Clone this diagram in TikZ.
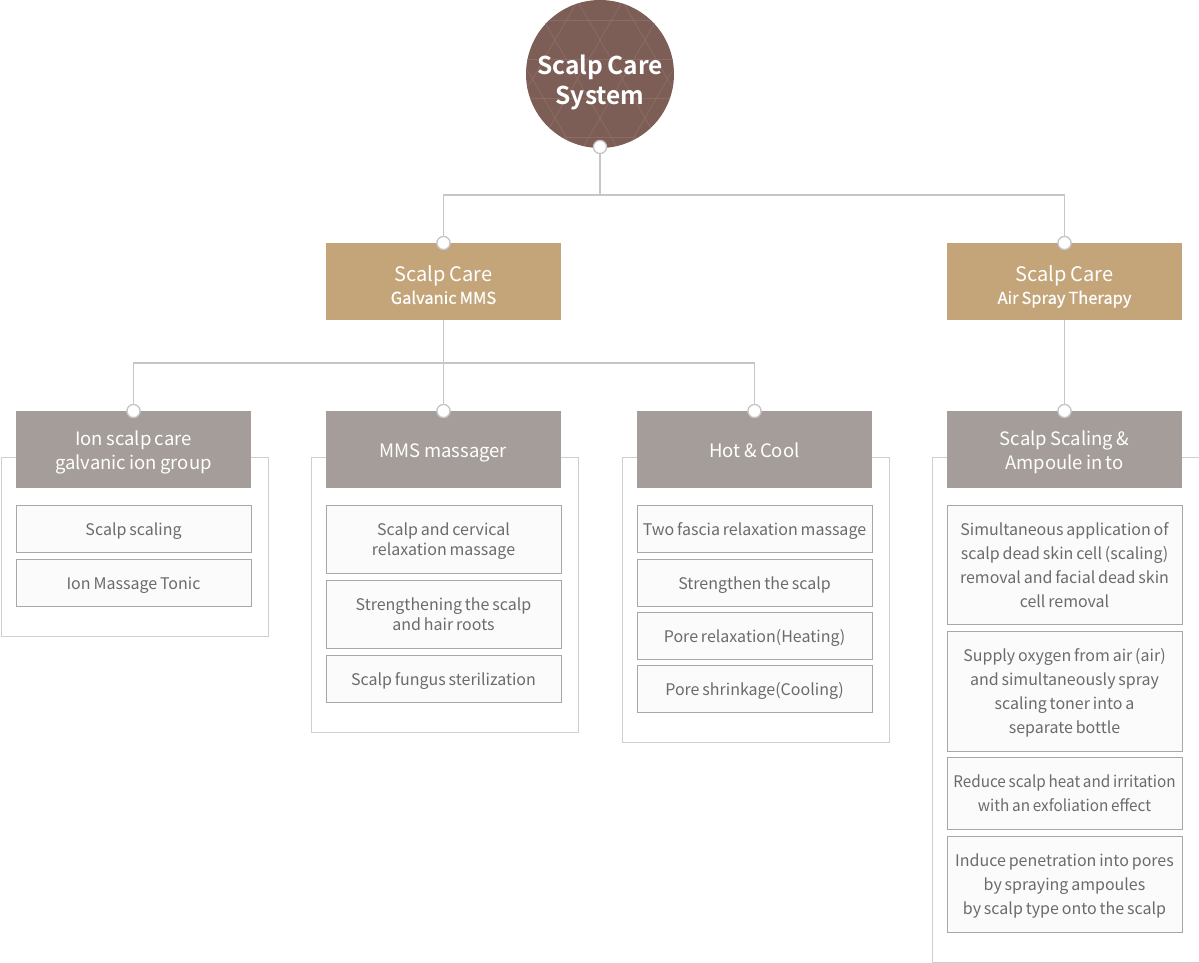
\documentclass[tikz,border=0pt]{standalone}
\usepackage{fontspec}
\setmainfont{Noto Sans CJK KR}[WordSpace=0.8]
\newfontfamily\boldfam{Noto Sans CJK KR}[UprightFont={* Bold},WordSpace=0.8]
\usetikzlibrary{calc}
\definecolor{circcol}{HTML}{7D5E57}
\definecolor{patcol}{HTML}{8C6B64}
\definecolor{tancol}{HTML}{C4A479}
\definecolor{graycol}{HTML}{A59D99}
\definecolor{itemborder}{HTML}{A8A8A8}
\definecolor{itemfill}{HTML}{FBFBFB}
\definecolor{framecol}{HTML}{CFCFCF}
\definecolor{itemtext}{HTML}{6B6B6B}
\definecolor{conncol}{HTML}{C6C6C6}
% line struts imitating the line boxes of the original (top: height only, bottom: depth only)
\newcommand\iT{\rule{0pt}{18.98pt}}
\newcommand\iB{\rule[-5.02pt]{0pt}{5.02pt}}
\newcommand\tT{\rule{0pt}{16.98pt}}
\newcommand\tB{\rule[-3.02pt]{0pt}{3.02pt}}
\newcommand\hT{\rule{0pt}{20.07pt}}
\newcommand\hB{\rule[-3.93pt]{0pt}{3.93pt}}
\newcommand\rT{\rule{0pt}{25.9pt}}
\newcommand\rB{\rule[-4.1pt]{0pt}{4.1pt}}
\newcommand\lT{\rule{0pt}{27pt}}
\newcommand\lB{\rule[-5pt]{0pt}{5pt}}
\newcommand\subline{\fontsize{16.5}{22.8}\selectfont\addfontfeature{FakeBold=0.6}}
\tikzset{
  frame/.style={draw=framecol, line width=1pt, fill=white, anchor=north west, inner sep=0pt},
  lvltwo/.style={fill=tancol, text=white, minimum width=235pt, minimum height=77pt, inner sep=0pt, align=center,
    font=\fontsize{20}{22.8}\selectfont},
  lvlthree/.style={fill=graycol, text=white, minimum width=235pt, minimum height=77pt, inner sep=0pt, align=center,
    font=\fontsize{18.5}{24}\selectfont},
  item/.style={draw=itemborder, fill=itemfill, text=itemtext, line width=0.9pt, minimum width=235pt, inner sep=0pt, align=center,
    font=\fontsize{16}{24}\selectfont},
  itemtight/.style={item, font=\fontsize{16}{20}\selectfont},
  roottxt/.style={text=white, align=center, inner sep=0pt, font=\boldfam\fontsize{24.5}{30}\selectfont},
  conn/.style={draw=conncol, line width=1.2pt},
  dot/.style={circle, draw=conncol, fill=white, line width=1.2pt, minimum size=13pt, inner sep=0pt},
}
\begin{document}
\begin{tikzpicture}[x=1pt,y=-1pt]
\useasboundingbox[fill=white] (0,0) rectangle (1199,963);
% frames
\node[frame, minimum width=267pt, minimum height=179pt] (f1) at (0.5,457) {};
\node[frame, minimum width=267pt, minimum height=275pt] (f2) at (310.5,457) {};
\node[frame, minimum width=267pt, minimum height=285pt] (f3) at (621.5,457) {};
\node[frame, minimum width=267pt, minimum height=505pt] (f4) at (931.5,457) {};
% root circle
\node[circle, fill=circcol, minimum size=148pt, inner sep=0pt] (root) at (600,74) {};
\begin{scope}
\clip (600,74) circle (74);
\foreach \k in {-6,...,6}{
  \draw[patcol, line width=0.8pt] ($(600+45*\k,20)+(-80.8,-120)$) -- ($(600+45*\k,20)+(80.8,160)$);
  \draw[patcol, line width=0.8pt] ($(600+45*\k,20)+(80.8,-120)$) -- ($(600+45*\k,20)+(-80.8,160)$);
}
\foreach \yy in {20,59,98,137}{
  \draw[patcol, line width=0.8pt] (520,\yy) -- (680,\yy);
}
\end{scope}
\node[roottxt] (roottext) at (600,79.4) {\rT Scalp Care\\System\rB};
% junctions
\coordinate (j1) at (600,195);
\coordinate (j2) at (443.5,363);
% level 2
\node[lvltwo] (mms) at (443.5,281.5) {\lT Scalp Care\\\subline Galvanic MMS\lB};
\node[lvltwo] (air) at (1064.5,281.5) {\lT Scalp Care\\\subline Air Spray Therapy\lB};
% level 3
\node[lvlthree] (ion) at (133.5,449.5) {\hT Ion scalp care\\galvanic ion group\hB};
\node[lvlthree] (mmsm) at (443.5,449.5) {\hT MMS massager\hB};
\node[lvlthree] (hot) at (754.5,449.5) {\hT Hot \& Cool\hB};
\node[lvlthree] (scal) at (1064.5,449.5) {\hT Scalp Scaling \&\\Ampoule in to\hB};
% dots
\node[dot] (d0) at (600,147) {};
\node[dot] (d1) at (443.5,243) {};
\node[dot] (d2) at (1064.5,243) {};
\node[dot] (d3) at (133.5,411) {};
\node[dot] (d4) at (443.5,411) {};
\node[dot] (d5) at (754.5,411) {};
\node[dot] (d6) at (1064.5,411) {};
% connectors
\draw[conn] (d0.south) -- (j1) -| (d1.north);
\draw[conn] (j1) -| (d2.north);
\draw[conn] (mms.south) -- (d4.north);
\draw[conn] (j2) -| (d3.north);
\draw[conn] (j2) -| (d5.north);
\draw[conn] (air.south) -- (d6.north);
% items column 1
\node[item, minimum height=47pt] (a1) at (133.5,528.5) {\iT Scalp scaling\iB};
\node[item, minimum height=47pt] (a2) at (133.5,582.5) {\iT Ion Massage Tonic\iB};
% column 2
\node[itemtight, minimum height=68pt] (b1) at (443.5,539) {\tT Scalp and cervical\\relaxation massage\tB};
\node[itemtight, minimum height=68pt] (b2) at (443.5,614) {\tT Strengthening the scalp\\and hair roots\tB};
\node[item, minimum height=47pt] (b3) at (443.5,678.5) {\iT Scalp fungus sterilization\iB};
% column 3
\node[item, minimum height=47pt] (c1) at (754.5,528.5) {\iT Two fascia relaxation massage\iB};
\node[item, minimum height=47pt] (c2) at (754.5,582.5) {\iT Strengthen the scalp\iB};
\node[item, minimum height=47pt] (c3) at (754.5,635.5) {\iT Pore relaxation(Heating)\iB};
\node[item, minimum height=47pt] (c4) at (754.5,688.5) {\iT Pore shrinkage(Cooling)\iB};
% column 4
\node[item, minimum height=119pt] (g1) at (1064.5,564.5) {\iT Simultaneous application of\\scalp dead skin cell (scaling)\\removal and facial dead skin\\cell removal\iB};
\node[item, minimum height=120pt] (g2) at (1064.5,691) {\iT Supply oxygen from air (air)\\and simultaneously spray\\scaling toner into a\\separate bottle\iB};
\node[item, minimum height=72pt, font=\fontsize{16}{24}\selectfont\addfontfeature{FakeStretch=0.955}] (g3) at (1064.5,793) {\iT Reduce scalp heat and irritation\\with an exfoliation effect\iB};
\node[item, minimum height=96pt] (g4) at (1064.5,884) {\iT Induce penetration into pores\\by spraying ampoules\\by scalp type onto the scalp\iB};
% redraw dots on top of the connectors
\foreach \n/\src in {e0/d0,e1/d1,e2/d2,e3/d3,e4/d4,e5/d5,e6/d6}{
  \node[dot] (\n) at (\src) {};
}
\end{tikzpicture}
\end{document}
